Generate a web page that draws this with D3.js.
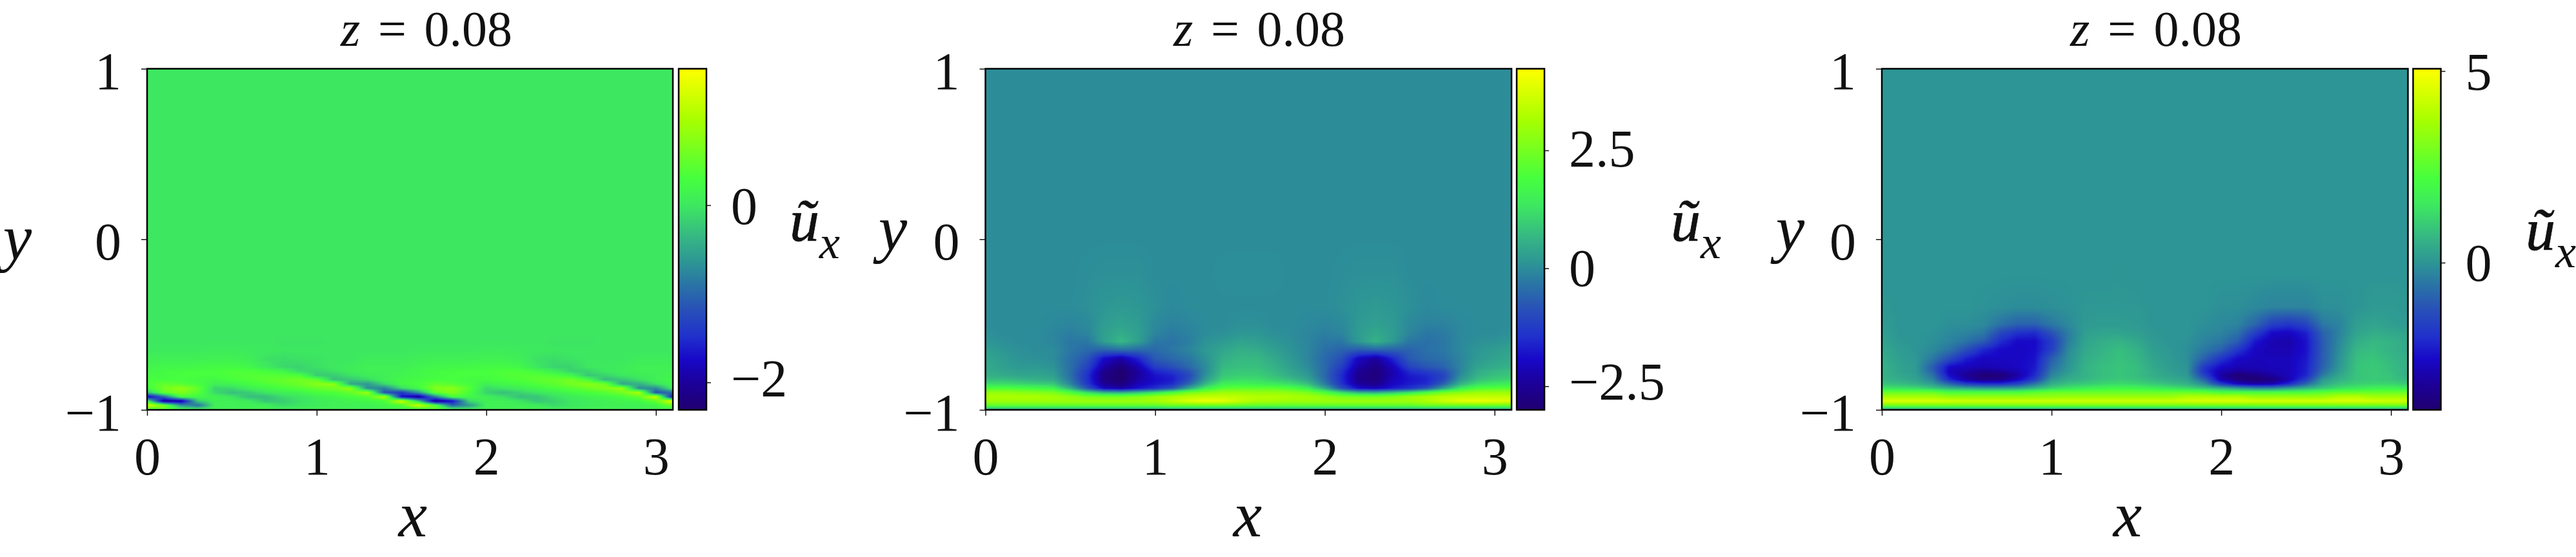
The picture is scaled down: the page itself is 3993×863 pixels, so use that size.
<!DOCTYPE html>
<html>
<head>
<meta charset="utf-8">
<script src="https://d3js.org/d3.v7.min.js"></script>
<style>
  html, body { margin: 0; padding: 0; background: #fff; }
  svg { display: block; }
  text { font-family: "Liberation Serif", serif; fill: #111; }
</style>
</head>
<body>
<div id="chart"></div>
<script>
// Grid of the field
const xGrid = [0,0.1,0.2,0.3,0.4,0.5,0.6,0.7,0.8,0.9,1,1.1,1.2,1.3,1.4,1.5,1.6,1.7,1.8,1.9,2,2.1,2.2,2.3,2.4,2.5,2.6,2.7,2.8,2.9,3,3.1];
const yGrid = [-1,-0.975,-0.95,-0.925,-0.9,-0.875,-0.85,-0.825,-0.8,-0.775,-0.75,-0.7,-0.65,-0.6,-0.55,-0.5,-0.4,-0.2,0,1];

// Left panel, one row per yGrid entry
const fieldLeft = [
  [.1,.5,.2,.1,.1,.1,.1,.1,.1,.1,.1,.1,.1,.1,.1,.1,.1,.5,.2,.1,.1,.1,.1,.1,.1,.1,.1,.1,.1,.1,.1,.1],
  [1.3,.6,-.6,-.9,.1,.1,.1,.1,-.1,0,.05,.1,.1,.1,.2,.4,1.2,.4,-1,-.6,.1,.1,.1,.05,-.1,0,.05,.1,.1,.1,.2,.6],
  [.2,-2.1,-2,-.2,.1,.1,.05,-.25,-.2,-.05,.05,.1,.15,.2,.3,1.2,-.2,-2.2,-1.7,-.1,.1,.1,0,-.25,-.15,0,.05,.1,.15,.2,.5,1.4],
  [-1.9,-1,.3,.2,.15,0,-.3,-.3,-.1,0,.1,.2,.3,.4,1,-1.7,-2.1,-.8,.3,.2,.1,-.05,-.3,-.25,-.05,.05,.15,.2,.3,.5,1.2,-1.8],
  [-.3,.5,.7,.4,-.1,-.3,-.2,0,.1,.15,.3,.35,.5,.9,-1.2,-1.4,-.6,.5,.7,.3,-.15,-.3,-.15,0,.1,.2,.3,.4,.6,1,-1.2,-.9],
  [.2,.6,.8,.5,-.15,-.1,.1,.2,.3,.4,.5,.6,.8,-.7,-.8,-.1,.2,.7,.75,.4,-.1,0,.1,.2,.3,.4,.55,.7,.85,-.7,-.7,.1],
  [.3,.5,.4,.3,.1,.15,.25,.35,.45,.55,.75,.8,-.5,-.6,-.1,.2,.3,.5,.4,.3,.1,.2,.25,.35,.45,.6,.75,.6,-.5,-.4,-.05,.2],
  [.3,.3,.3,.25,.2,.3,.35,.45,.5,.6,.5,-.3,-.25,-.1,.1,.2,.25,.3,.3,.25,.25,.3,.35,.45,.5,.6,.3,-.35,-.25,-.05,.1,.2],
  [.25,.25,.3,.3,.3,.35,.4,.4,.4,.35,-.2,-.2,-.05,.05,.1,.15,.2,.25,.3,.3,.3,.35,.4,.4,.35,.2,-.25,-.15,0,.05,.1,.15],
  [.2,.25,.28,.3,.3,.35,.35,.3,.2,-.1,-.15,-.05,.05,.1,.1,.12,.2,.25,.28,.3,.3,.35,.35,.25,.1,-.15,-.15,0,.05,.1,.1,.12],
  [.15,.2,.2,.22,.25,.25,.2,.05,-.12,-.15,-.05,0,.05,.1,.1,.1,.15,.2,.2,.22,.25,.25,.2,0,-.15,-.15,0,.02,.05,.1,.1,.1],
  [.1,.1,.1,.1,.12,.12,.08,-.05,-.08,-.05,-.03,0,0,.05,.05,.05,.08,.1,.1,.1,.12,.12,.08,-.05,-.08,-.03,0,0,0,.05,.05,.05],
  [.03,.03,.03,.03,.05,.05,.03,.02,0,0,0,0,0,0,0,0,.02,.03,.03,.03,.05,.05,.03,.02,0,0,0,0,0,0,0,0],
  [0,0,0,0,0,0,0,0,-.03,-.03,-.03,0,0,0,0,0,0,0,0,0,0,0,0,0,-.03,-.03,-.03,0,0,0,0,0],
  [0,0,0,0,0,0,0,0,0,0,0,0,0,0,0,0,0,0,0,0,0,0,0,0,0,0,0,0,0,0,0,0],
  [0,0,0,0,0,0,0,0,0,0,0,0,0,0,0,0,0,0,0,0,0,0,0,0,0,0,0,0,0,0,0,0],
  [0,0,0,0,0,0,0,0,0,0,0,0,0,0,0,0,0,0,0,0,0,0,0,0,0,0,0,0,0,0,0,0],
  [0,0,0,0,0,0,0,0,0,0,0,0,0,0,0,0,0,0,0,0,0,0,0,0,0,0,0,0,0,0,0,0],
  [0,0,0,0,0,0,0,0,0,0,0,0,0,0,0,0,0,0,0,0,0,0,0,0,0,0,0,0,0,0,0,0],
  [0,0,0,0,0,0,0,0,0,0,0,0,0,0,0,0,0,0,0,0,0,0,0,0,0,0,0,0,0,0,0,0]
];

// Middle panel
const fieldMiddle = [
  [.3,.3,.3,.3,.3,.3,.3,.3,.3,.3,.3,.3,.3,.3,.3,.3,.3,.3,.3,.3,.3,.3,.3,.3,.3,.3,.3,.3,.3,.3,.3,.3],
  [2.3,2.3,2.3,2.3,2.3,2.3,2.3,2.3,2.3,2.3,2.3,2.5,2.5,2.5,2.5,2.4,2.3,2.3,2.3,2.3,2.3,2.3,2.3,2.3,2.3,2.3,2.5,2.5,2.5,2.5,2.5,2.5],
  [3,3,3,3,3,3,3,3,3,3,3.1,3.4,3.8,4,3.9,3.5,3.2,3.1,3,3,3,3,3,3,3,3,3.2,3.6,3.9,4,3.9,3.8],
  [3.2,3.2,3.2,3.2,3.1,2.9,2.6,2.5,2.5,2.7,3,3.2,3.4,3.5,3.5,3.4,3.3,3.3,3.2,3.1,2.9,2.6,2.5,2.5,2.7,3,3.2,3.4,3.5,3.5,3.5,3.5],
  [2.9,2.9,2.8,2.7,2.6,2,1.2,.6,.5,.8,1.3,1.9,2.5,2.8,3,3,2.9,2.9,2.8,2.6,2,1.2,.6,.5,.8,1.3,1.9,2.5,2.8,3,3,3],
  [2,2,1.9,1.8,1.6,.6,-.8,-2,-2.3,-1.8,-1.4,-.8,.4,1.5,2.1,2.2,2.2,2.2,2,1.5,.5,-.9,-1.9,-2.1,-1.7,-1.4,-.8,.3,1.4,2,2.1,2.2],
  [1.2,1.2,1.1,1,.9,-.1,-1.3,-2.5,-2.8,-2.1,-1.8,-1.5,-.5,.7,1.5,1.6,1.5,1.4,1.2,.8,-.2,-1.4,-2.4,-2.6,-2,-1.7,-1.5,-.6,.6,1.2,1.4,1.5],
  [.8,.8,.7,.6,.5,-.3,-1.4,-2.7,-3,-2.3,-1.9,-1.7,-.9,.3,1.1,1.2,1.2,1,.8,.4,-.4,-1.5,-2.6,-2.8,-2.1,-1.8,-1.6,-1,.2,.8,1,1.1],
  [.6,.5,.4,.4,.3,-.4,-1.4,-2.7,-3,-2.4,-1.8,-1.6,-1,.1,.9,1,1,.8,.5,.2,-.5,-1.5,-2.6,-2.8,-2.2,-1.7,-1.5,-1.1,0,.6,.8,.9],
  [.5,.4,.3,.3,.2,-.4,-1.3,-2.6,-3,-2.4,-1.6,-1.3,-.8,0,.8,.9,.9,.7,.4,.1,-.5,-1.4,-2.5,-2.8,-2.2,-1.5,-1.2,-.9,-.1,.5,.7,.8],
  [.5,.3,.2,.2,.1,-.4,-1.1,-2.3,-2.8,-2.2,-1.2,-.9,-.5,0,.7,.8,.8,.6,.3,0,-.5,-1.2,-2.3,-2.7,-2.1,-1.1,-.8,-.6,-.1,.35,.5,.6],
  [.4,.25,.1,.05,0,-.4,-.8,-1.9,-2.3,-1.6,-.7,-.5,-.3,.1,.55,.7,.7,.45,.2,-.1,-.5,-.9,-2,-2.4,-1.6,-.7,-.5,-.4,-.1,.2,.35,.45],
  [.3,.15,.05,0,0,-.3,-.5,-.6,-.4,-.5,-.5,-.3,-.1,.2,.4,.55,.5,.3,.1,-.1,-.4,-.6,-.7,-.6,-.6,-.6,-.4,-.3,-.05,.15,.25,.35],
  [.15,.05,0,0,-.1,-.3,-.3,.3,.7,.3,-.3,-.35,-.2,.1,.2,.35,.3,.15,.05,-.1,-.3,-.3,.2,.6,.2,-.3,-.4,-.3,-.05,.05,.1,.2],
  [.05,0,0,0,-.1,-.2,-.1,.3,.5,.3,-.1,-.25,-.15,0,.05,.15,.15,.05,0,-.1,-.2,-.1,.25,.45,.25,-.1,-.3,-.25,-.05,0,0,.05],
  [0,0,0,0,-.05,-.1,-.05,.25,.35,.25,-.05,-.15,-.1,0,0,.05,.05,0,0,-.05,-.1,-.05,.2,.3,.2,-.05,-.15,-.15,-.05,0,0,0],
  [0,0,0,0,0,0,.05,.15,.2,.15,.05,-.05,0,0,0,0,0,0,0,0,0,.05,.15,.2,.15,.05,-.05,0,0,0,0,0],
  [0,0,0,0,0,0,.02,.05,.05,.05,0,0,0,0,.02,.02,.02,.02,0,0,0,.02,.05,.05,.05,0,0,0,0,0,0,0],
  [0,0,0,0,0,0,0,0,0,0,0,0,0,0,0,0,0,0,0,0,0,0,0,0,0,0,0,0,0,0,0,0],
  [0,0,0,0,0,0,0,0,0,0,0,0,0,0,0,0,0,0,0,0,0,0,0,0,0,0,0,0,0,0,0,0]
];

// Right panel
const fieldRight = [
  [.2,.2,.2,.2,.2,.2,.2,.2,.2,.2,.2,.2,.2,.2,.2,.2,.2,.2,.2,.2,.2,.2,.2,.2,.2,.2,.2,.2,.2,.2,.2,.2],
  [3,3,3,3,3,3,3,3,3,3,3,3,3,3,3,3,3,3,3,3,3,3,3,3,3,3,3,3,3,3,3,3],
  [4.5,4.5,4.5,4.5,4.4,4.3,4.3,4.3,4.3,4.3,4.3,4.3,4.3,4.3,4.3,4.3,4.3,4.3,4.4,4.5,4.5,4.5,4.4,4.4,4.4,4.4,4.4,4.5,4.5,4.4,4.3,4.3],
  [3.7,3.7,3.7,3.7,3.4,3.4,3.4,3.4,3.4,3.4,3.4,3.5,3.5,3.5,3.5,3.5,3.5,3.5,3.9,3.9,3.9,3.9,3.5,3.5,3.5,3.5,3.5,4,4,3.6,3.6,3.6],
  [2.8,2.8,2.8,2.8,2.3,2.3,2.3,2.3,2.3,2.6,2.8,2.8,2.8,2.8,2.8,2.8,2.8,2.8,2.8,2.7,2.3,2.3,2.3,2.3,2.3,2.3,2.6,2.8,2.8,2.8,2.8,2.8],
  [1.5,1.4,1.3,1,.6,.4,.2,.2,.3,.7,1.2,1.5,1.7,1.9,2,1.9,1.7,1.5,1.3,1,.6,.2,-.2,-.2,.2,.6,1,1.4,1.6,1.8,1.8,1.7],
  [.9,.8,.6,.2,-.8,-1.6,-1.9,-1.9,-1.5,-.5,.5,.9,1,1.2,1.3,1.2,1,.8,.6,-.1,-1.6,-2.6,-2.9,-2.8,-2,-.8,.4,.9,1.1,1.2,1.2,1],
  [.7,.5,.3,-.3,-2,-3,-3.4,-3.3,-2.6,-1.6,.1,.5,.7,.9,1,.9,.7,.5,.3,-.8,-2.8,-3.5,-3.8,-3.5,-2.8,-1.6,.1,.6,.9,1,.9,.7],
  [.6,.4,.2,-.6,-2.5,-3.2,-3.8,-3.7,-3,-2,-.3,.3,.6,.8,.9,.8,.5,.3,.1,-1.5,-3,-3.8,-3.5,-3.1,-2.7,-2.1,-.4,.4,.9,1,.9,.5],
  [.6,.3,.1,-.9,-2.7,-3,-3.3,-3.1,-2.8,-2.2,-.5,.1,.6,.8,.9,.8,.5,.2,0,-1.9,-2.8,-3.1,-3,-2.8,-2.7,-2.2,-.7,.2,.9,1,.8,.5],
  [.6,.3,.1,-1,-2.5,-2.7,-2.8,-2.7,-2.6,-2.3,-.7,0,.6,.8,.9,.8,.4,.15,0,-1.7,-2.5,-2.8,-2.8,-2.7,-2.7,-2.2,-.9,.1,.9,1,.8,.5],
  [.5,.2,.05,-.5,-1.3,-2.2,-2.6,-2.6,-2.6,-2.4,-1,-.1,.5,.7,.85,.7,.3,.1,-.1,-.9,-1.8,-2.5,-2.7,-2.7,-2.7,-2.3,-1,0,.8,.9,.7,.5],
  [.4,.15,0,-.2,-.6,-1.3,-2.1,-2.5,-2.6,-2.5,-1.6,-.2,.4,.6,.8,.6,.2,.05,-.1,-.5,-.9,-1.8,-2.6,-2.8,-2.8,-2.4,-1,-.1,.7,.8,.6,.4],
  [.3,.05,0,-.1,-.3,-.6,-1,-2,-2.5,-2.5,-1.7,-.4,.3,.5,.6,.4,.1,0,-.05,-.3,-.5,-1,-2.3,-2.8,-2.9,-2.4,-1,-.2,.5,.7,.6,.4],
  [.2,.02,0,-.05,-.2,-.3,-.5,-1.4,-1.9,-2,-1.2,-.4,.2,.3,.3,.2,.05,0,0,-.2,-.3,-.6,-1.6,-2.5,-2.6,-2.2,-.9,-.3,.3,.5,.4,.3],
  [.15,0,0,0,-.1,-.1,-.2,-.6,-.9,-.9,-.5,-.2,.1,.15,.15,.1,0,0,0,-.1,-.2,-.3,-.8,-1.6,-1.8,-1.5,-.5,-.3,.2,.3,.2,.1],
  [.05,0,0,0,0,0,-.05,-.1,-.15,-.15,-.1,-.05,.05,.05,.05,.05,0,0,0,0,-.1,-.1,-.2,-.3,-.3,-.3,-.1,-.1,0,.1,.1,.05],
  [0,0,0,0,0,0,0,0,0,0,0,0,0,0,.02,0,0,0,0,0,0,0,0,0,0,0,0,0,0,0,0,0],
  [0,0,0,0,0,0,0,0,0,0,0,0,0,0,0,0,0,0,0,0,0,0,0,0,0,0,0,0,0,0,0,0],
  [0,0,0,0,0,0,0,0,0,0,0,0,0,0,0,0,0,0,0,0,0,0,0,0,0,0,0,0,0,0,0,0]
];

// Colormap stops (0 = bottom of the colorbar, 1 = top)
const cmapStops = [0, 0.076, 0.149, 0.214, 0.293, 0.359, 0.431, 0.504, 0.6, 0.678, 0.851, 1];
const cmapColors = ['#200070', '#1c0098', '#1808c8', '#2030cc', '#2850b8', '#2a70a8', '#2d9595', '#36b585', '#3de860', '#46ff3e', '#a8ff00', '#ffff00'];

const xTicks = [0, 1, 2, 3];
const yTicks = [-1, 0, 1];
const colorTicksLeft = [-2, 0];
const colorTicksMiddle = [-2.5, 0, 2.5];
const colorTicksRight = [0, 5];
const titleValue = '0.08';

// Layout of each panel in page pixels
const panels = [
  { field: fieldLeft, left: 228, right: 1043, barLeft: 1052, domain: [-2.31, 1.54], ticks: colorTicksLeft, tickDy: [21, 29],
    titleX: 661, xLabelX: 640, yLabelX: 27, yLabelY: 402, uX: 1224, uY: 373 },
  { field: fieldMiddle, left: 1527.5, right: 2343, barLeft: 2351, domain: [-3, 4.23], ticks: colorTicksMiddle, tickDy: [20, 27, 25],
    titleX: 1952, xLabelX: 1934, yLabelX: 1384, yLabelY: 388, uX: 2590, uY: 373 },
  { field: fieldRight, left: 2917, right: 3732.5, barLeft: 3740.5, domain: [-3.84, 5.06], ticks: colorTicksRight, tickDy: [28, 28],
    titleX: 3342, xLabelX: 3298, yLabelX: 2775, yLabelY: 388, uX: 3915, uY: 387 }
];

const width = 3993;
const height = 863;
const plotTop = 106.5;
const plotBottom = 635;
const barWidth = 43;
const fontSize = 82;
const titleSize = 78;

const svg = d3.select('#chart').append('svg')
    .attr('width', width)
    .attr('height', height);

const defs = svg.append('defs');

// Paint one field into a canvas, smooth between the grid values
function fieldImage(field, xScale, yScale, colorScale) {
    const w = Math.round(xScale.range()[1] - xScale.range()[0]);
    const h = Math.round(yScale.range()[0] - yScale.range()[1]);
    const canvas = document.createElement('canvas');
    canvas.width = w;
    canvas.height = h;
    const ctx = canvas.getContext('2d');
    const img = ctx.createImageData(w, h);

    // lookup table, parsing a color for every pixel is slow
    const stops = colorScale.domain();
    const vMin = stops[0];
    const vMax = stops[stops.length - 1];
    const lut = d3.range(1024).map(i => d3.rgb(colorScale(vMin + (vMax - vMin) * i / 1023)));
    const bisect = d3.bisector(d => d).right;

    for (let py = 0; py < h; py++) {
        const y = yScale.invert(yScale.range()[1] + py + 0.5);
        const j = Math.min(Math.max(bisect(yGrid, y) - 1, 0), yGrid.length - 2);
        const fy = Math.min(Math.max((y - yGrid[j]) / (yGrid[j + 1] - yGrid[j]), 0), 1);
        for (let px = 0; px < w; px++) {
            const x = xScale.invert(xScale.range()[0] + px + 0.5);
            const i = Math.min(Math.max(bisect(xGrid, x) - 1, 0), xGrid.length - 2);
            const fx = Math.min(Math.max((x - xGrid[i]) / (xGrid[i + 1] - xGrid[i]), 0), 1);
            const v = (field[j][i] * (1 - fx) + field[j][i + 1] * fx) * (1 - fy)
                + (field[j + 1][i] * (1 - fx) + field[j + 1][i + 1] * fx) * fy;
            const k = Math.round((v - vMin) / (vMax - vMin) * 1023);
            const c = lut[Math.min(Math.max(k, 0), 1023)];
            const p = (py * w + px) * 4;
            img.data[p] = c.r;
            img.data[p + 1] = c.g;
            img.data[p + 2] = c.b;
            img.data[p + 3] = 255;
        }
    }
    ctx.putImageData(img, 0, 0);
    return canvas.toDataURL();
}

function drawPanel(panel, index) {
    const xScale = d3.scaleLinear().domain([0, 3.1]).range([panel.left, panel.right]);
    const yScale = d3.scaleLinear().domain([-1, 1]).range([plotBottom, plotTop]);
    const barScale = d3.scaleLinear().domain(panel.domain).range([plotBottom, plotTop]);

    const [vMin, vMax] = panel.domain;
    const colorScale = d3.scaleLinear()
        .domain(cmapStops.map(t => vMin + t * (vMax - vMin)))
        .range(cmapColors)
        .clamp(true);

    const g = svg.append('g').attr('class', 'panel');

    // Field
    g.append('image')
        .attr('x', panel.left)
        .attr('y', plotTop)
        .attr('width', panel.right - panel.left)
        .attr('height', plotBottom - plotTop)
        .attr('preserveAspectRatio', 'none')
        .attr('href', fieldImage(panel.field, xScale, yScale, colorScale));

    g.append('rect')
        .attr('x', panel.left)
        .attr('y', plotTop)
        .attr('width', panel.right - panel.left)
        .attr('height', plotBottom - plotTop)
        .attr('fill', 'none')
        .attr('stroke', '#000')
        .attr('stroke-width', 2.5);

    // Axes
    const xAxis = d3.axisBottom(xScale).tickValues(xTicks).tickSize(9).tickPadding(33).tickFormat(d3.format('d'));
    const yAxis = d3.axisLeft(yScale).tickValues(yTicks).tickSize(9).tickPadding(31).tickFormat(d3.format('d'));

    const xG = g.append('g').attr('transform', `translate(0,${plotBottom})`).call(xAxis);
    const yG = g.append('g').attr('transform', `translate(${panel.left},0)`).call(yAxis);
    [xG, yG].forEach(axis => {
        axis.select('.domain').remove();
        axis.selectAll('line').attr('stroke', '#111').attr('stroke-width', 1.5);
        axis.selectAll('text').style('font-size', `${fontSize}px`).attr('fill', '#111');
    });
    yG.selectAll('text').attr('dy', '31px');

    // Colorbar
    const gradId = `cmap${index}`;
    defs.append('linearGradient')
        .attr('id', gradId)
        .attr('x1', 0).attr('y1', 1).attr('x2', 0).attr('y2', 0)
        .selectAll('stop')
        .data(cmapStops)
        .join('stop')
        .attr('offset', d => d)
        .attr('stop-color', (d, i) => cmapColors[i]);

    g.append('rect')
        .attr('x', panel.barLeft)
        .attr('y', plotTop)
        .attr('width', barWidth)
        .attr('height', plotBottom - plotTop)
        .attr('fill', `url(#${gradId})`)
        .attr('stroke', '#000')
        .attr('stroke-width', 2.5);

    const barAxis = d3.axisRight(barScale)
        .tickValues(panel.ticks)
        .tickSize(7)
        .tickPadding(31)
        .tickFormat(d => String(d).replace('-', '\u2212'));

    const barG = g.append('g').attr('transform', `translate(${panel.barLeft + barWidth},0)`).call(barAxis);
    barG.select('.domain').remove();
    barG.selectAll('line').attr('stroke', '#111').attr('stroke-width', 1.5);
    barG.selectAll('text')
        .style('font-size', `${fontSize}px`)
        .attr('fill', '#111')
        .attr('dy', (d, i) => `${panel.tickDy[i]}px`);

    // Title
    const title = g.append('text')
        .attr('x', panel.titleX)
        .attr('y', 71)
        .attr('text-anchor', 'middle')
        .style('font-size', `${titleSize}px`)
        .style('word-spacing', '8px');
    title.append('tspan').style('font-style', 'italic').text('z');
    title.append('tspan').attr('xml:space', 'preserve').text(` = ${titleValue}`);

    // Axis labels
    g.append('text')
        .attr('x', panel.xLabelX)
        .attr('y', 831)
        .attr('text-anchor', 'middle')
        .style('font-size', '100px')
        .style('font-style', 'italic')
        .text('x');

    g.append('text')
        .attr('x', panel.yLabelX)
        .attr('y', panel.yLabelY)
        .attr('text-anchor', 'middle')
        .style('font-size', '100px')
        .style('font-style', 'italic')
        .text('y');

    g.append('text')
        .attr('x', panel.uX)
        .attr('y', panel.uY)
        .style('font-size', '92px')
        .style('font-style', 'italic')
        .attr('stroke', '#111')
        .attr('stroke-width', 0.8)
        .text('\u0169');

    g.append('text')
        .attr('x', panel.uX + 46)
        .attr('y', panel.uY + 27)
        .style('font-size', '72px')
        .style('font-style', 'italic')
        .text('x');
}

panels.forEach(drawPanel);
</script>
</body>
</html>
